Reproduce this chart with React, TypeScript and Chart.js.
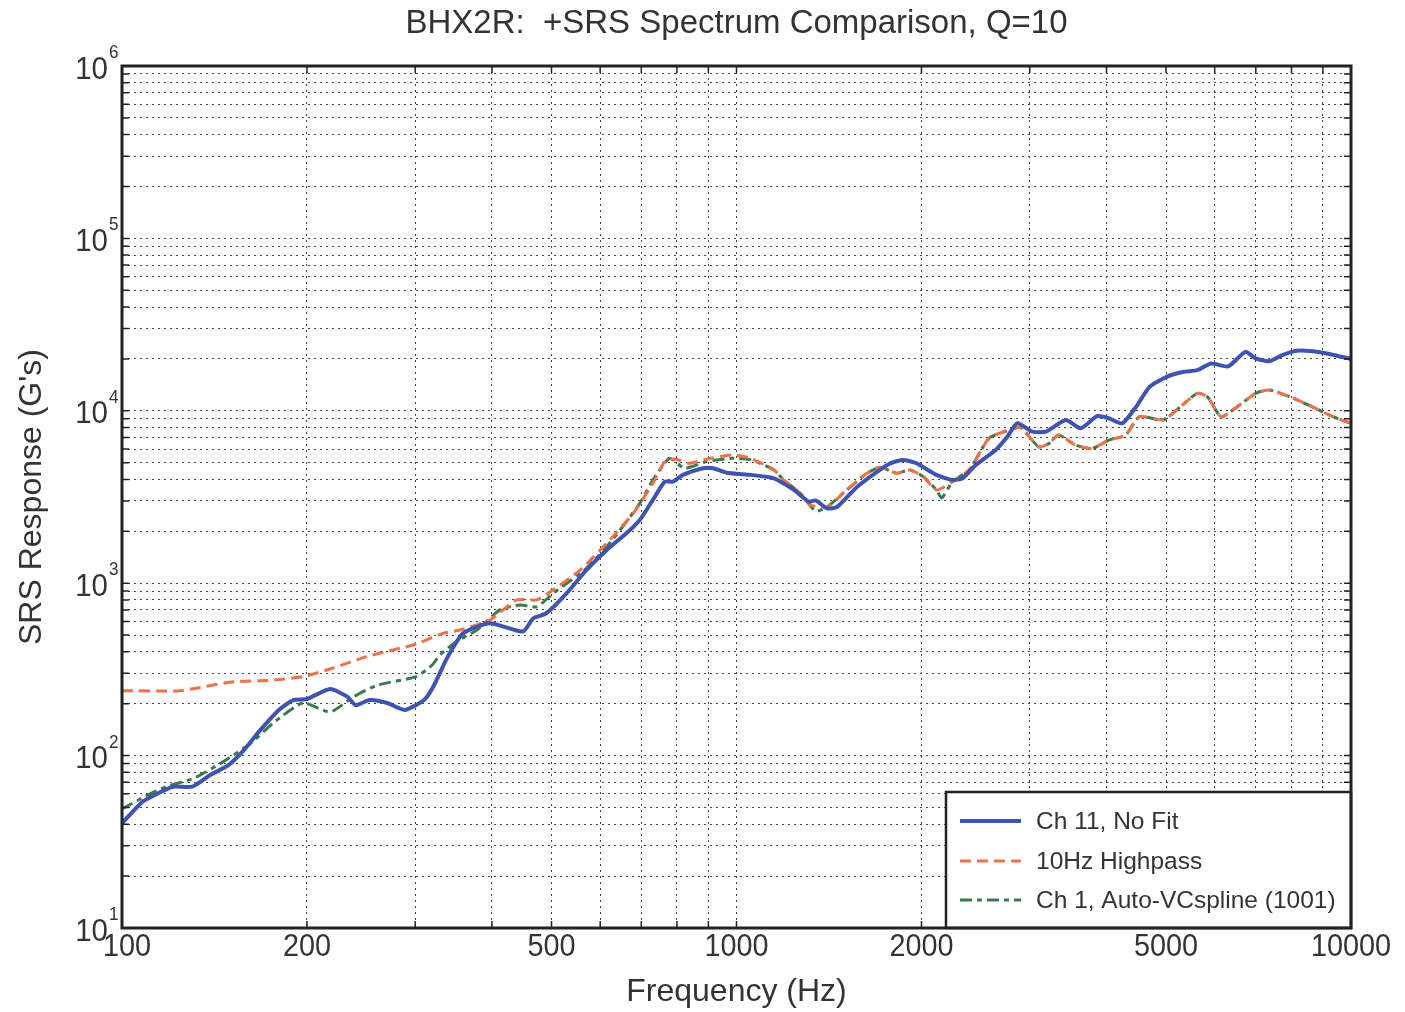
import React, { useEffect, useRef } from 'react';
import { Chart, registerables } from 'chart.js';

Chart.register(...registerables);

// ---------- Data ----------
const TITLE = 'BHX2R:  +SRS Spectrum Comparison, Q=10';
const X_TITLE = 'Frequency (Hz)';
const Y_TITLE = "SRS Response (G's)";

const X_TICK_LABELS = [100, 200, 500, 1000, 2000, 5000, 10000];
const Y_DECADE_EXPONENTS = [1, 2, 3, 4, 5, 6];

const LABEL_CH11 = 'Ch 11, No Fit';
const LABEL_HP = '10Hz Highpass';
const LABEL_CH1 = 'Ch 1, Auto-VCspline (1001)';

const ch11Freq = [100, 108, 114, 121, 130, 139, 149, 158, 168, 180, 190, 200, 218, 233, 240, 253, 270, 289, 310, 321, 339, 359, 397, 449, 467, 490, 529, 570, 615, 662, 696, 731, 764, 788, 818, 882, 916, 963, 1054, 1137, 1166, 1240, 1311, 1345, 1404, 1458, 1572, 1693, 1779, 1869, 1963, 2115, 2247, 2332, 2451, 2641, 2759, 2864, 3031, 3189, 3435, 3632, 3866, 4035, 4245, 4469, 4701, 5011, 5343, 5622, 5920, 6312, 6732, 6995, 7364, 7751, 8168, 8905, 10000];
const ch11Val = [40.5, 54, 60, 66, 66, 77, 88, 108, 141, 184, 210, 213, 243, 219, 196, 210, 202, 184, 210, 251, 375, 512, 585, 524, 626, 668, 873, 1194, 1560, 1947, 2326, 3040, 3880, 3880, 4250, 4640, 4640, 4375, 4250, 4100, 3970, 3475, 2972, 3020, 2716, 2770, 3630, 4430, 4960, 5185, 4960, 4250, 3970, 4060, 4850, 5930, 7080, 8460, 7570, 7570, 8850, 7910, 9330, 9050, 8460, 10540, 13770, 15740, 16830, 17200, 18830, 18100, 21980, 20120, 19400, 21100, 22300, 21840, 20000];

const hpFreq = [100, 123, 132, 152, 176, 197, 220, 250, 283, 298, 333, 355, 397, 439, 473, 503, 557, 622, 679, 731, 768, 797, 837, 892, 985, 1054, 1151, 1193, 1271, 1320, 1404, 1512, 1630, 1714, 1822, 1915, 2013, 2115, 2247, 2391, 2576, 2776, 2900, 3103, 3227, 3342, 3565, 3791, 4035, 4298, 4525, 4947, 5275, 5622, 5841, 6140, 6479, 6995, 7364, 7964, 8657, 9344, 10000];
const hpVal = [238, 237, 246, 268, 274, 287, 321, 375, 419, 438, 512, 535, 612, 800, 800, 914, 1194, 1782, 2540, 3795, 5185, 5230, 4960, 5230, 5550, 5300, 4540, 3970, 3320, 2840, 2770, 3475, 4340, 4700, 4340, 4540, 4150, 3475, 3880, 4540, 6920, 7740, 8000, 6180, 6470, 7230, 6320, 6050, 6760, 7230, 9240, 8850, 10540, 12620, 12050, 9240, 10330, 12620, 13200, 12050, 10540, 9240, 8460];

const ch1Freq = [100, 110, 118, 131, 146, 162, 176, 197, 218, 238, 260, 301, 320, 329, 350, 378, 412, 444, 473, 503, 570, 631, 696, 731, 778, 823, 892, 985, 1054, 1151, 1193, 1271, 1345, 1404, 1512, 1630, 1714, 1822, 1915, 2013, 2115, 2157, 2247, 2391, 2576, 2776, 2900, 3103, 3227, 3342, 3565, 3791, 4035, 4298, 4525, 4947, 5275, 5622, 5841, 6140, 6479, 6995, 7364, 7964, 8657, 9344, 10000];
const ch1Val = [49, 59, 66, 74, 92, 118, 154, 202, 179, 219, 256, 287, 336, 383, 458, 535, 700, 748, 730, 873, 1220, 1822, 2905, 3970, 5300, 4640, 5070, 5300, 5200, 4540, 3970, 3320, 2620, 2770, 3475, 4340, 4700, 4340, 4540, 4150, 3475, 3120, 3880, 4540, 6920, 7740, 8000, 6180, 6470, 7230, 6320, 6050, 6760, 7230, 9240, 8850, 10540, 12620, 12050, 9240, 10330, 12620, 13200, 12050, 10540, 9240, 8460];

// ---------- Styling ----------
const FONT = '"Liberation Sans", Arial, Helvetica, sans-serif';
const TEXT_COLOR = '#333333';
const GRID_COLOR = '#444444';
const FRAME_COLOR = '#222222';

const zip = (xs: number[], ys: number[]) => xs.map((x, i) => ({ x, y: ys[i] }));

const logTicks = (lo: number, hi: number) => {
  const out: { value: number }[] = [];
  for (let d = lo; d < hi; d *= 10) {
    for (let m = 1; m <= 9; m++) out.push({ value: Math.round(m * d * 1000) / 1000 });
  }
  out.push({ value: hi });
  return out;
};

const drawCondensed = (ctx: CanvasRenderingContext2D, text: string, x: number, y: number, sx: number, align: 'left' | 'right' | 'center') => {
  ctx.save();
  ctx.translate(x, y);
  ctx.scale(sx, 1);
  ctx.textAlign = align;
  ctx.fillText(text, 0, 0);
  ctx.restore();
};

const decorPlugin = {
  id: 'decor',
  afterDraw(chart: any) {
    const { ctx, chartArea } = chart;
    const xs = chart.scales.x;
    const ys = chart.scales.y;
    const { left, right, top, bottom } = chartArea;
    ctx.save();

    // inner tick marks
    ctx.strokeStyle = FRAME_COLOR;
    ctx.lineWidth = 1.5;
    const tl = 7;
    xs.ticks.forEach((t: any) => {
      const px = xs.getPixelForValue(t.value);
      ctx.beginPath();
      ctx.moveTo(px, top); ctx.lineTo(px, top + tl);
      ctx.moveTo(px, bottom); ctx.lineTo(px, bottom - tl);
      ctx.stroke();
    });
    ys.ticks.forEach((t: any) => {
      const py = ys.getPixelForValue(t.value);
      ctx.beginPath();
      ctx.moveTo(left, py); ctx.lineTo(left + tl, py);
      ctx.moveTo(right, py); ctx.lineTo(right - tl, py);
      ctx.stroke();
    });

    // legend
    const lw = 405, lh = 136;
    const lx = right - lw, ly = bottom - lh;
    ctx.fillStyle = '#ffffff';
    ctx.fillRect(lx, ly, lw, lh);
    ctx.strokeStyle = FRAME_COLOR;
    ctx.lineWidth = 2.5;
    ctx.strokeRect(lx, ly, lw, lh);
    const rows = [29, 69, 108];
    chart.data.datasets.forEach((ds: any, i: number) => {
      const yy = ly + rows[i];
      ctx.save();
      ctx.strokeStyle = ds.borderColor;
      ctx.lineWidth = ds.borderWidth;
      ctx.setLineDash(ds.borderDash || []);
      ctx.beginPath();
      ctx.moveTo(lx + 14, yy);
      ctx.lineTo(lx + 75, yy);
      ctx.stroke();
      ctx.restore();
      ctx.fillStyle = TEXT_COLOR;
      ctx.font = `24.5px ${FONT}`;
      ctx.textAlign = 'left';
      ctx.textBaseline = 'middle';
      ctx.fillText(ds.label, lx + 90, yy + 1);
    });

    // frame
    ctx.strokeStyle = FRAME_COLOR;
    ctx.lineWidth = 3;
    ctx.strokeRect(left, top, right - left, bottom - top);

    // x tick labels
    ctx.fillStyle = TEXT_COLOR;
    ctx.textBaseline = 'middle';
    ctx.font = `32px ${FONT}`;
    X_TICK_LABELS.forEach((v) => {
      const px = xs.getPixelForValue(v);
      drawCondensed(ctx, String(v), px + (v === 100 ? 5 : 0), bottom + 19, 0.9, 'center');
    });

    // y tick labels with superscript exponent
    Y_DECADE_EXPONENTS.forEach((e) => {
      const py = ys.getPixelForValue(Math.pow(10, e));
      ctx.font = `31px ${FONT}`;
      drawCondensed(ctx, '10', 108, py + 4, 0.95, 'right');
      ctx.font = `18px ${FONT}`;
      drawCondensed(ctx, String(e), 109, py - 13, 0.95, 'left');
    });
    ctx.restore();
  },
};

export default function App() {
  const ref = useRef<HTMLCanvasElement | null>(null);

  useEffect(() => {
    if (!ref.current) return;
    const chart = new Chart(ref.current, {
      type: 'line',
      data: {
        datasets: [
          {
            label: LABEL_CH11,
            data: zip(ch11Freq, ch11Val),
            borderColor: '#3f53b3',
            borderWidth: 4,
            pointRadius: 0,
            tension: 0.2,
          },
          {
            label: LABEL_HP,
            data: zip(hpFreq, hpVal),
            borderColor: '#ee7249',
            borderWidth: 3,
            borderDash: [11, 6],
            pointRadius: 0,
            tension: 0.2,
          },
          {
            label: LABEL_CH1,
            data: zip(ch1Freq, ch1Val),
            borderColor: '#3b7a4c',
            borderWidth: 3,
            borderDash: [12, 5, 5, 5],
            pointRadius: 0,
            tension: 0.2,
          },
        ],
      },
      options: {
        responsive: false,
        animation: false,
        devicePixelRatio: 1,
        layout: { padding: { left: 0, right: 54, top: 0, bottom: 0 } },
        plugins: {
          legend: { display: false },
          tooltip: { enabled: false },
          title: {
            display: true,
            fullSize: false,
            text: TITLE,
            color: TEXT_COLOR,
            font: { family: FONT, size: 33, weight: 'normal' },
            padding: { top: 4, bottom: 22.4 },
          },
        },
        scales: {
          x: {
            type: 'logarithmic',
            min: 100,
            max: 10000,
            afterBuildTicks: (s: any) => { s.ticks = logTicks(100, 10000); },
            afterFit: (s: any) => { s.height = 84; },
            ticks: { display: false, autoSkip: false },
            grid: { color: GRID_COLOR, lineWidth: 1, drawTicks: false },
            border: { display: false, dash: [2, 4] },
            title: {
              display: true,
              text: X_TITLE,
              color: TEXT_COLOR,
              font: { family: FONT, size: 32 },
              padding: { top: 0, bottom: 1 },
            },
          },
          y: {
            type: 'logarithmic',
            min: 10,
            max: 1000000,
            afterBuildTicks: (s: any) => { s.ticks = logTicks(10, 1000000); },
            afterFit: (s: any) => { s.width = 122; },
            ticks: { display: false, autoSkip: false },
            grid: { color: GRID_COLOR, lineWidth: 1, drawTicks: false },
            border: { display: false, dash: [2, 4] },
            title: {
              display: true,
              text: Y_TITLE,
              color: TEXT_COLOR,
              font: { family: FONT, size: 32 },
              padding: { top: 13, bottom: 0 },
            },
          },
        },
      },
      plugins: [decorPlugin],
    });
    return () => chart.destroy();
  }, []);

  return (
    <div style={{ position: 'fixed', left: 0, top: 0, width: 1405, height: 1012, background: '#ffffff' }}>
      <canvas ref={ref} width={1405} height={1012} style={{ width: 1405, height: 1012, display: 'block' }} />
    </div>
  );
}
